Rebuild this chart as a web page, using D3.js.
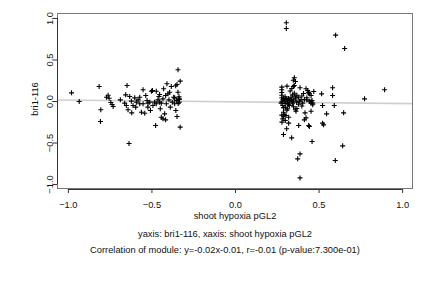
<!DOCTYPE html>
<html><head><meta charset="utf-8">
<script src="https://cdn.jsdelivr.net/npm/d3@7"></script>
<style>
html,body{margin:0;padding:0;background:#fff;}
text{font-family:"Liberation Sans",Arial,Helvetica,sans-serif;fill:#111;}
</style></head>
<body>
<svg id="chart" width="432" height="288"></svg>
<script>
// ---- data (x = shoot hypoxia pGL2, y = bri1-116) ----
const negCluster = [
[-0.978,0.098],[-0.932,-0.006],[-0.813,0.175],[-0.803,-0.106],[-0.805,-0.247],[-0.769,0.046],[-0.759,0.070],[-0.753,0.034],
[-0.743,-0.018],[-0.735,-0.042],[-0.729,-0.066],[-0.686,0.014],[-0.646,0.187],[-0.654,0.074],[-0.630,0.054],[-0.660,-0.026],
[-0.650,-0.054],[-0.640,-0.106],[-0.620,-0.002],[-0.610,-0.054],[-0.618,-0.143],[-0.634,-0.512],[-0.590,-0.014],[-0.580,0.014],
[-0.570,-0.034],[-0.594,-0.074],[-0.550,0.135],[-0.560,-0.135],[-0.540,-0.147],[-0.534,0.066],[-0.526,0.006],[-0.521,-0.026],
[-0.510,-0.014],[-0.500,0.118],[-0.506,-0.114],[-0.491,-0.054],[-0.481,-0.014],[-0.471,0.118],[-0.475,-0.295],[-0.461,0.014],
[-0.455,0.054],[-0.451,0.078],[-0.447,-0.094],[-0.441,-0.026],[-0.431,0.026],[-0.427,0.147],[-0.421,-0.155],[-0.441,-0.195],
[-0.431,-0.215],[-0.415,-0.227],[-0.411,-0.034],[-0.407,0.207],[-0.401,0.086],[-0.395,0.014],[-0.391,0.106],[-0.381,0.175],
[-0.387,-0.074],[-0.375,-0.014],[-0.367,0.046],[-0.361,-0.034],[-0.351,0.006],[-0.347,0.199],[-0.341,0.106],[-0.347,-0.187],
[-0.335,0.026],[-0.334,-0.014],[-0.341,0.376],[-0.328,0.239],[-0.328,-0.315],[-0.354,-0.114],[-0.361,0.038],[-0.415,0.066],
[-0.451,-0.014],[-0.471,-0.034],[-0.521,-0.074],[-0.550,-0.034],[-0.570,0.046],[-0.600,0.038],[-0.355,0.183],[-0.494,0.127],
[-0.333,0.020],[-0.340,-0.030],[-0.335,0.050]
];
const posCluster = [
[0.280,0.167],[0.280,0.135],[0.280,0.102],[0.280,0.070],[0.311,0.179],[0.355,0.280],[0.349,0.250],[0.362,0.235],
[0.355,0.187],[0.349,0.175],[0.389,0.159],[0.425,0.147],[0.435,0.127],[0.441,0.106],[0.445,0.086],[0.455,0.066],
[0.471,0.114],[0.518,0.086],[0.584,0.159],[0.584,0.066],[0.775,0.026],[0.895,0.135],
[0.286,0.014],[0.295,-0.002],[0.305,0.026],[0.315,-0.014],[0.325,0.006],[0.335,0.046],[0.345,0.074],[0.355,0.094],
[0.361,0.026],[0.369,-0.014],[0.381,0.046],[0.385,-0.002],[0.395,0.014],[0.405,-0.026],[0.325,-0.054],[0.276,-0.026],
[0.286,-0.054],[0.301,-0.074],[0.315,-0.094],[0.345,-0.034],[0.429,0.014],[0.445,-0.002],[0.455,-0.026],[0.461,0.006],
[0.465,-0.046],[0.524,-0.054],[0.594,-0.054],
[0.290,-0.135],[0.295,-0.163],[0.305,-0.175],[0.286,-0.215],[0.301,-0.235],[0.281,-0.255],[0.321,-0.195],[0.365,-0.123],
[0.361,-0.106],[0.419,-0.143],[0.455,-0.123],[0.425,-0.203],[0.415,-0.227],[0.548,-0.155],[0.650,-0.143],[0.524,-0.267],
[0.530,-0.287],[0.441,-0.295],[0.445,-0.307],[0.381,-0.295],[0.321,-0.267],[0.309,-0.335],[0.290,-0.404],[0.339,-0.444],
[0.461,-0.488],[0.644,-0.540],[0.389,-0.637],[0.375,-0.697],[0.389,-0.926],[0.600,-0.717],
[0.307,0.942],[0.307,0.873],[0.602,0.793],[0.656,0.633],
[0.280,0.040],[0.280,-0.010],[0.290,0.030],[0.300,0.050],[0.310,0.020],[0.320,0.030],[0.330,0.010],[0.340,0.020],
[0.350,0.000],[0.360,0.050],[0.370,0.070],[0.340,-0.010],[0.300,-0.030],[0.320,-0.040],[0.290,-0.080],[0.310,-0.110],
[0.350,-0.070],[0.380,-0.040],[0.400,0.060],[0.410,0.090],[0.430,0.040],[0.440,0.100],[0.280,-0.170],[0.290,-0.190],
[0.330,0.120],[0.340,0.150],[0.400,-0.060],[0.370,-0.090],[0.415,0.018],[0.455,-0.002],[0.465,-0.026]
];
const xTicks = [-1.0, -0.5, 0.0, 0.5, 1.0];
const yTicks = [-1.0, -0.5, 0.0, 0.5, 1.0];
const fitSlope = -0.02, fitIntercept = -0.01;
const xLabel = "shoot hypoxia pGL2";
const yLabel = "bri1-116";
const caption1 = "yaxis: bri1-116, xaxis: shoot hypoxia pGL2";
const caption2 = "Correlation of module: y=-0.02x-0.01, r=-0.01 (p-value:7.300e-01)";

// ---- layout ----
const FS = 9.3;
const L = 57, R = 413, T = 13, B = 189;
const x = d3.scaleLinear().domain([-1.065, 1.065]).range([L, R]);
const y = d3.scaleLinear().domain([-1.06, 1.06]).range([B, T]);
const svg = d3.select("#chart");
const fmt = d3.format(".1f");

svg.append("clipPath").attr("id","clip").append("rect")
  .attr("x",L).attr("y",T).attr("width",R-L).attr("height",B-T);

// regression line
const dom = x.domain();
svg.append("line").attr("clip-path","url(#clip)")
  .attr("x1", x(dom[0])).attr("y1", y(fitSlope*dom[0]+fitIntercept))
  .attr("x2", x(dom[1])).attr("y2", y(fitSlope*dom[1]+fitIntercept))
  .attr("stroke","#cfcfcf").attr("stroke-width",1.6);

// points
const pts = negCluster.concat(posCluster);
svg.append("g").selectAll("path").data(pts).enter().append("path")
  .attr("transform", d => `translate(${x(d[0])},${y(d[1])})`)
  .attr("d","M-2.5,0H2.5M0,-2.5V2.5")
  .attr("stroke","#000").attr("stroke-width",1.1).attr("fill","none");

// box
svg.append("rect").attr("x",L+0.5).attr("y",T+0.5).attr("width",R-L-1).attr("height",B-T-1)
  .attr("fill","none").attr("stroke","#777").attr("stroke-width",1);

// x axis
const xa = svg.append("g").attr("transform",`translate(0,${B})`)
  .call(d3.axisBottom(x).tickValues(xTicks).tickFormat(fmt).tickSize(4).tickPadding(8));
xa.select(".domain").attr("d",`M${x(xTicks[0])},0.5H${x(xTicks[xTicks.length-1])}`).attr("stroke","#333");
xa.selectAll(".tick line").attr("stroke","#333");
xa.selectAll("text").attr("font-size",FS).attr("fill","#111")
  .attr("font-family","'Liberation Sans',Arial,sans-serif");

// y axis
const ya = svg.append("g").attr("transform",`translate(${L},0)`)
  .call(d3.axisLeft(y).tickValues(yTicks).tickFormat(fmt).tickSize(4).tickPadding(0));
ya.select(".domain").attr("d",`M0.5,${y(yTicks[0])}V${y(yTicks[yTicks.length-1])}`).attr("stroke","#333");
ya.selectAll(".tick line").attr("stroke","#333");
ya.selectAll("text").attr("font-size",FS).attr("fill","#111")
  .attr("font-family","'Liberation Sans',Arial,sans-serif")
  .attr("x",null).attr("dy",null)
  .attr("text-anchor","middle")
  .attr("transform","translate(-4.5,0) rotate(-90)");

// titles
svg.append("text").attr("x",(L+R)/2).attr("y",219).attr("text-anchor","middle")
  .attr("font-size",FS).text(xLabel);
svg.append("text").attr("transform",`translate(37.7,${(T+B)/2-2}) rotate(-90)`).attr("text-anchor","middle")
  .attr("font-size",FS).text(yLabel);
svg.append("text").attr("x",225).attr("y",236.5).attr("text-anchor","middle")
  .attr("font-size",FS).text(caption1);
svg.append("text").attr("x",225).attr("y",253).attr("text-anchor","middle")
  .attr("font-size",FS).text(caption2);
</script>
</body></html>
